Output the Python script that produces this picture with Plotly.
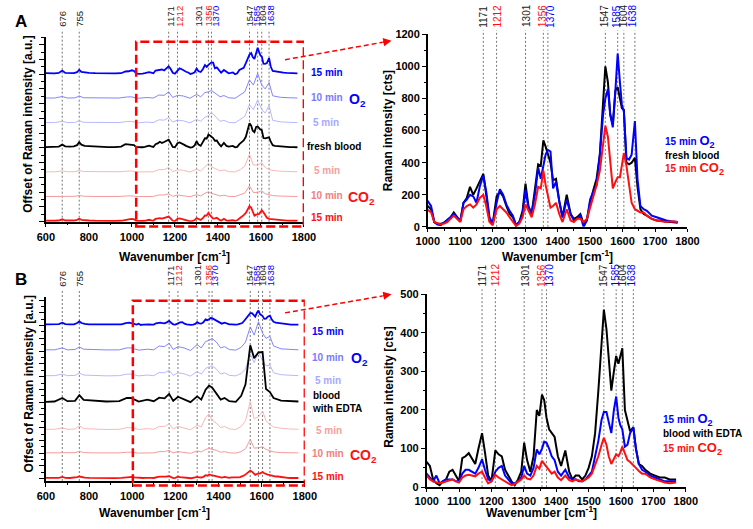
import plotly.graph_objects as go

# ---------------- data ----------------
W = [600, 620, 640, 660, 676, 690, 710, 730, 745, 755, 765, 780, 800, 830, 860, 890, 920, 950, 970, 985,
     1000, 1010, 1020, 1030, 1040, 1050, 1060, 1070, 1080, 1090, 1100,
     1110, 1120, 1130, 1140, 1150, 1160,
     1171, 1180, 1190, 1200,
     1212, 1222, 1232, 1242, 1252, 1262, 1272, 1282, 1292,
     1301, 1310, 1320, 1330, 1340, 1348, 1356, 1363, 1370, 1378, 1386, 1395,
     1405, 1415, 1428, 1440, 1450, 1460, 1470, 1480, 1490, 1500, 1510, 1520, 1530, 1540,
     1547, 1555, 1562, 1570, 1578, 1585, 1592, 1598, 1604, 1612, 1620, 1628, 1638,
     1646, 1655, 1665, 1675, 1690, 1705, 1720, 1735, 1750, 1770]

WL = [600, 640, 676, 700, 735, 755, 775, 820, 880, 940, 975, 995, 1030, 1070, 1100, 1125, 1150, 1171, 1190,
      1212, 1240, 1270, 1301, 1320, 1340, 1356, 1370, 1390, 1410, 1428, 1450, 1480, 1505, 1525, 1547, 1565,
      1585, 1604, 1620, 1638, 1655, 1690, 1730, 1770]

A_O2_15 = [40, 30, 30, 50, 150, 50, 40, 40, 80, 180, 90, 60, 50, 40, 30, 30, 30, 40, 110, 120,
           160, 130, 30, 15, 10, 25, 40, 60, 80, 60, 35,
           150, 170, 200, 190, 150, 250,
           320, 220, 60, 20,
           150, 235, 200, 140, 100, 70, 10, 30, 80,
           230, 120, 90, 200, 370, 300, 380, 450, 480, 470, 240, 280,
           160, 60, 170, 80, 40, 50, 70, 0, 40, 170, 220, 260, 450, 700,
           800, 860, 700, 620, 850, 1080, 900, 760, 720, 430, 420, 450, 660,
           300, 130, 110, 100, 70, 60, 50, 40, 35, 30]
A_FRESH = [30, 30, 40, 50, 130, 60, 50, 60, 110, 230, 130, 80, 70, 50, 40, 30, 30, 50, 150, 140,
           130, 110, 30, 20, 20, 25, 40, 60, 90, 60, 35,
           150, 180, 250, 200, 240, 280,
           330, 200, 40, 20,
           190, 220, 190, 130, 80, 60, 10, 30, 100,
           270, 130, 80, 250, 390, 380, 540, 500, 450, 400, 290, 300,
           160, 60, 200, 80, 50, 60, 80, 20, 40, 150, 230, 300, 450, 800,
           1000, 900, 700, 640, 850, 870, 800, 740, 730, 400, 390, 400, 430,
           250, 110, 80, 70, 50, 40, 40, 30, 30, 25]
A_CO2_15 = [30, 20, 30, 40, 90, 40, 30, 40, 70, 110, 70, 50, 40, 30, 20, 20, 20, 30, 80, 90,
            105, 90, 30, 20, 15, 20, 30, 50, 70, 50, 30,
            110, 130, 140, 120, 140, 180,
            200, 130, 30, 10,
            110, 130, 110, 90, 60, 30, 5, 20, 60,
            140, 100, 60, 140, 250, 240, 350, 260, 190, 120, 130, 150,
            80, 30, 110, 40, 30, 50, 50, 30, 50, 120, 180, 260, 350, 500,
            630, 560, 400, 240, 280, 310, 310, 380, 460, 380, 250, 150, 110,
            100, 90, 90, 70, 50, 40, 35, 30, 35, 30]

A_O2_10 = [30, 30, 90, 30, 35, 110, 40, 30, 25, 30, 70, 80, 20, 50, 30, 150, 140, 280, 50,
           140, 110, 20, 180, 80, 250, 280, 340, 200, 80, 130, 40, 20, 180, 280, 770, 560,
           1030, 560, 400, 660, 120, 60, 40, 30]
A_O2_5 = [30, 30, 80, 30, 35, 110, 40, 30, 25, 30, 70, 80, 20, 50, 30, 140, 130, 230, 50,
          130, 100, 20, 160, 80, 250, 300, 450, 250, 80, 120, 40, 20, 170, 280, 760, 560,
          950, 560, 420, 720, 120, 60, 40, 30]
A_CO2_5 = [25, 25, 60, 25, 30, 80, 35, 25, 20, 25, 50, 60, 20, 40, 25, 110, 110, 200, 30,
           110, 80, 15, 130, 60, 240, 370, 230, 160, 60, 100, 30, 20, 120, 250, 740, 300,
           300, 400, 200, 120, 80, 50, 35, 25]
A_CO2_10 = [20, 20, 45, 20, 25, 60, 30, 20, 15, 20, 40, 45, 15, 30, 20, 80, 80, 130, 25,
            80, 60, 10, 90, 45, 150, 210, 150, 100, 40, 70, 25, 15, 80, 160, 450, 180,
            190, 250, 130, 80, 55, 35, 25, 20]

B_O2_15 = [20, 18, 18, 22, 45, 22, 18, 20, 40, 65, 40, 25, 20, 18, 15, 15, 15, 20, 40, 45,
           35, 25, 15, 30, 10, 15, 20, 20, 20, 15, 15,
           35, 45, 45, 40, 35, 50,
           72, 45, 20, 15,
           40, 50, 55, 30, 20, 10, 10, 15, 25,
           55, 35, 30, 50, 98, 85, 100, 118, 115, 100, 80, 70,
           40, 30, 45, 25, 20, 20, 15, 15, 20, 30, 40, 80, 120, 175,
           195, 195, 170, 140, 200, 235, 180, 160, 150, 105, 110, 140, 155,
           100, 60, 45, 40, 30, 25, 20, 15, 15, 15]
B_EDTA = [25, 22, 25, 30, 50, 30, 25, 30, 55, 85, 55, 40, 35, 30, 25, 25, 25, 35, 60, 65,
          65, 55, 20, 10, 5, 15, 20, 40, 45, 30, 15,
          75, 80, 88, 75, 60, 100,
          140, 90, 30, 15,
          95, 85, 80, 45, 30, 15, 5, 20, 40,
          115, 70, 40, 80, 200, 185, 240, 225, 180, 150, 140, 130,
          80, 55, 95, 40, 20, 30, 30, 20, 30, 50, 80, 140, 250, 380,
          460, 410, 330, 250, 300, 340, 320, 340, 360, 200, 170, 145, 155,
          100, 60, 55, 45, 35, 30, 25, 25, 20, 20]
B_CO2_15 = [15, 12, 12, 15, 28, 15, 12, 15, 25, 35, 25, 18, 15, 12, 10, 10, 10, 15, 25, 30,
            30, 20, 15, 12, 10, 12, 15, 18, 20, 15, 12,
            25, 30, 32, 30, 28, 35,
            40, 25, 10, 15,
            32, 25, 20, 15, 12, 5, 8, 15, 20,
            30, 22, 20, 30, 55, 48, 68, 60, 55, 45, 35, 40,
            25, 18, 30, 18, 15, 20, 18, 15, 20, 25, 35, 55, 80, 110,
            128, 110, 80, 60, 75, 85, 80, 90, 105, 85, 70, 65, 58,
            50, 42, 35, 35, 25, 20, 15, 12, 10, 12]

# stacked (normalised) EDTA spectrum shown in panel B, left
B_EDTA_STACK = [25, 30, 85, 35, 40, 130, 55, 40, 30, 35, 85, 85, 30, 60, 35, 90, 80, 150, 40,
                105, 60, 20, 110, 60, 215, 280, 250, 150, 60, 85, 35, 25, 120, 300, 910, 710,
                800, 805, 225, 178, 85, 45, 35, 30]
B_O2_10 = [20, 20, 50, 20, 25, 65, 30, 20, 18, 20, 50, 50, 15, 30, 20, 80, 70, 125, 25,
           70, 50, 10, 100, 50, 150, 170, 200, 140, 50, 70, 25, 15, 60, 140, 380, 250,
           460, 280, 200, 230, 80, 35, 25, 20]
B_O2_5 = [15, 15, 40, 15, 20, 55, 25, 15, 12, 15, 40, 40, 12, 25, 15, 65, 60, 100, 20,
          60, 45, 8, 80, 40, 130, 150, 170, 120, 40, 60, 20, 12, 50, 120, 355, 220,
          385, 250, 170, 180, 60, 30, 20, 15]
B_CO2_5 = [15, 15, 35, 15, 20, 70, 25, 15, 12, 15, 40, 40, 12, 25, 15, 60, 60, 100, 20,
           60, 40, 8, 80, 50, 200, 255, 160, 110, 40, 60, 20, 12, 60, 150, 450, 180,
           210, 300, 150, 90, 50, 30, 20, 15]
B_CO2_10 = [15, 15, 25, 15, 18, 40, 20, 15, 12, 15, 25, 25, 12, 20, 15, 35, 35, 55, 15,
            35, 25, 8, 45, 30, 70, 85, 70, 55, 25, 35, 15, 12, 35, 80, 225, 90,
            95, 110, 70, 45, 30, 20, 15, 15]

BANDS_LEFT = [676, 755, 1171, 1212, 1301, 1356, 1370, 1547, 1585, 1604, 1638]
BANDS_RIGHT = [1171, 1212, 1301, 1356, 1370, 1547, 1585, 1604, 1638]
BAND_LABELS = {676: "676", 755: "755", 1171: "1171", 1212: "1212", 1301: "1301", 1356: "1356",
               1370: "1370", 1547: "1547", 1585: "1585", 1604: "1604", 1638: "1638"}

# ---------------- styling ----------------
FW, FH = 753, 529
FONT = "Liberation Sans, Arial, sans-serif"
BLUE, RED, BLACK = "#0000ff", "#ff1010", "#000000"
O2_10C, O2_5C = "#8484ff", "#b8b8ff"
CO2_5C, CO2_10C = "#f8b8b8", "#f29a9a"
BAND_COL = {676: "#222", 755: "#222", 1171: "#222", 1212: RED, 1301: "#222", 1356: RED,
            1370: BLUE, 1547: "#222", 1585: BLUE, 1604: "#222", 1638: BLUE}


def fx(p):
    return p / FW


def fy(p):
    return 1 - p / FH


fig = go.Figure()

P = {
    "AL": dict(xa="x", ya="y", xd=(35, 301.5), yd=(32, 220.7), xr=[600, 1800], yr=[-8, 7504]),
    "AR": dict(xa="x2", ya="y2", xd=(429.5, 697.7), yd=(29, 226), xr=[1000, 1800], yr=[0, 1200]),
    "BL": dict(xa="x3", ya="y3", xd=(35, 302.5), yd=(298, 486), xr=[600, 1800], yr=[-35, 2844]),
    "BR": dict(xa="x4", ya="y4", xd=(428.3, 696), yd=(295, 492.3), xr=[1000, 1800], yr=[0, 500]),
}


def add(panel, x, vals, color, width, offset=0):
    p = P[panel]
    fig.add_trace(go.Scatter(x=x, y=[v + offset for v in vals], mode="lines",
                             line=dict(color=color, width=width), xaxis=p["xa"], yaxis=p["ya"],
                             showlegend=False, hoverinfo="skip"))


add("AL", WL, A_CO2_10, CO2_10C, 1, 1000)
add("AL", WL, A_CO2_5, CO2_5C, 1, 2000)
add("AL", WL, A_O2_5, O2_5C, 1, 4000)
add("AL", WL, A_O2_10, O2_10C, 1, 5000)
add("AL", W, A_CO2_15, RED, 1.8, 0)
add("AL", W, A_FRESH, BLACK, 1.8, 3000)
add("AL", W, A_O2_15, BLUE, 1.8, 6000)

add("AR", W, A_FRESH, BLACK, 2)
add("AR", W, A_O2_15, BLUE, 2)
add("AR", W, A_CO2_15, RED, 2)

add("BL", WL, B_CO2_10, CO2_10C, 1, 390)
add("BL", WL, B_CO2_5, CO2_5C, 1, 760)
add("BL", WL, B_O2_5, O2_5C, 1, 1600)
add("BL", WL, B_O2_10, O2_10C, 1, 2000)
add("BL", W, B_CO2_15, RED, 1.8, 0)
add("BL", WL, B_EDTA_STACK, BLACK, 1.8, 1180)
add("BL", W, B_O2_15, BLUE, 1.8, 2400)

add("BR", W, B_EDTA, BLACK, 2)
add("BR", W, B_O2_15, BLUE, 2)
add("BR", W, B_CO2_15, RED, 2)

tickfont = dict(family=FONT, size=11, color="black", weight="bold")
layout = dict(width=FW, height=FH, margin=dict(l=0, r=0, t=0, b=0),
              paper_bgcolor="white", plot_bgcolor="white", showlegend=False)


def axis_common():
    return dict(showline=True, linecolor="black", linewidth=1.5, ticks="outside", tickcolor="black",
                tickwidth=1, showgrid=False, zeroline=False, tickfont=tickfont)


for key, p in P.items():
    xk = "xaxis" + p["xa"][1:]
    yk = "yaxis" + p["ya"][1:]
    xa = axis_common()
    ya = axis_common()
    xa.update(domain=[fx(p["xd"][0]), fx(p["xd"][1])], range=p["xr"], anchor=p["ya"])
    ya.update(domain=[fy(p["yd"][1]), fy(p["yd"][0])], range=p["yr"], anchor=p["xa"])
    if key in ("AL", "BL"):
        xa.update(tick0=600, dtick=200, ticklen=4,
                  minor=dict(dtick=100, ticklen=2, ticks="outside", tickcolor="black"))
        ya.update(showticklabels=False, ticklen=5, tick0=0, dtick=600 if key == "AL" else 200,
                  minor=dict(dtick=300 if key == "AL" else 100, ticklen=3, ticks="outside", tickcolor="black"))
    else:
        xa.update(tick0=1000, dtick=100, ticklen=3,
                  minor=dict(dtick=50, ticklen=2, ticks="outside", tickcolor="black"))
        ya.update(tick0=0, dtick=200 if key == "AR" else 100, ticklen=4,
                  minor=dict(dtick=100 if key == "AR" else 50, ticklen=2, ticks="outside", tickcolor="black"))
    layout[xk] = xa
    layout[yk] = ya
fig.update_layout(**layout)

shapes = []
annots = []


def bands(panel, blist, label_bottom, line_top, size, shifts):
    p = P[panel]
    for b in blist:
        shapes.append(dict(type="line", xref=p["xa"], yref="paper", x0=b, x1=b,
                           y0=fy(p["yd"][1]), y1=fy(line_top), layer="below",
                           line=dict(color="#777", width=1, dash="2px,2px")))
        annots.append(dict(xref=p["xa"], yref="paper", x=b, y=fy(label_bottom), text=BAND_LABELS[b],
                           textangle=-90, showarrow=False, xanchor="center", yanchor="bottom",
                           xshift=shifts.get(b, 0), borderpad=0,
                           font=dict(family=FONT, size=size, color=BAND_COL[b])))


LSH = {1171: 1.5, 1212: 1.5, 1301: 1, 1370: 3.4, 1585: -1.9, 1604: 0.5, 1638: 1.3}
RSH = {1212: 1, 1301: 1.5, 1370: 3, 1585: -0.7, 1604: 0.3, 1638: -1.7}
bands("AL", BANDS_LEFT, 22, 24, 9.5, LSH)
bands("AR", BANDS_RIGHT, 23, 25, 10, RSH)
bands("BL", BANDS_LEFT, 288, 290, 9.5, LSH)
bands("BR", BANDS_RIGHT, 288, 290, 10, RSH)

for xa, x0, top, bot, a0, a1 in (("x", 1020, 36.7, 225.7, (282, 55), (392, 35.5)),
                                  ("x3", 1003, 301.7, 490.7, (282, 314), (392, 295))):
    shapes.append(dict(type="rect", xref=xa, yref="paper", x0=x0, x1=1800, y0=fy(bot), y1=fy(top),
                       line=dict(color="#ff0000", width=2.5, dash="9px,4px"), layer="above"))
    shapes.append(dict(type="line", xref="paper", yref="paper", x0=fx(a0[0]), y0=fy(a0[1]),
                       x1=fx(a1[0] - 9), y1=fy(a1[1] + 1.6),
                       line=dict(color="#ff0000", width=1.5, dash="5px,3px")))
    annots.append(dict(xref="paper", yref="paper", x=fx(a1[0]), y=fy(a1[1]), ax=-10, ay=1.8,
                       text="", showarrow=True, arrowhead=2, arrowsize=1.1, arrowwidth=1.5,
                       arrowcolor="#ff0000"))


def txt(s, x, y, color, size=10, xanchor="left", angle=0, align="left"):
    annots.append(dict(xref="paper", yref="paper", x=fx(x), y=fy(y), text="<b>%s</b>" % s,
                       showarrow=False, xanchor=xanchor, yanchor="middle", textangle=angle, align=align,
                       font=dict(family=FONT, size=size, color=color)))


O2T = "O<sub>2</sub>"
CO2T = "CO<sub>2</sub>"

txt("15 min", 306.7, 68.5, BLUE)
txt("10 min", 306.7, 93.5, "#7a7aff")
txt(O2T, 346.5, 96.5, BLUE, 14)
txt("5 min", 309.3, 119, "#a8a8ff")
txt("fresh blood", 302.7, 143.5, BLACK)
txt("5 min", 310, 168.5, "#f4a0a0")
txt("10 min", 307, 193.5, "#f08080")
txt(CO2T, 345, 196.5, RED, 14)
txt("15 min", 307, 216.7, RED)

txt("15 min", 308.3, 333.3, BLUE)
txt("10 min", 308, 359.3, "#7a7aff")
txt(O2T, 348, 361.5, BLUE, 14)
txt("5 min", 311, 383.3, "#a8a8ff")
txt("blood<br>with EDTA", 307.7, 405.5, BLACK)
txt("5 min", 312, 434, "#f4a0a0")
txt("10 min", 308, 457.7, "#f08080")
txt(CO2T, 346.7, 460.5, RED, 14)
txt("15 min", 308, 481.7, RED)

BIG = '<span style="font-size:13px">%s</span>'
for x0, ys, mid in ((672.7, (138.3, 152.7, 166.7), "fresh blood"),
                    (670, (423.3, 437.7, 452.7), "blood with EDTA")):
    txt("15 min " + BIG % O2T, x0, ys[0], BLUE)
    txt(mid, x0, ys[1], BLACK)
    txt("15 min " + BIG % CO2T, x0, ys[2], RED)

XT = "Wavenumber [cm<sup>-1</sup>]"
txt(XT, 168, 256, BLACK, 12, "center")
txt(XT, 563.7, 255.5, BLACK, 12, "center")
txt(XT, 147, 517.5, BLACK, 12, "center")
txt(XT, 546.7, 517.5, BLACK, 12, "center")
txt("Offset of Raman intensity [a.u.]", 17, 121, BLACK, 12, "center", -90)
txt("Offset of Raman intensity [a.u.]", 17, 386.7, BLACK, 12, "center", -90)
txt("Raman intensity [cts]", 388, 127.5, BLACK, 12, "center", -90)
txt("Raman intensity [cts]", 390, 390, BLACK, 12, "center", -90)

txt("A", 1, 16, BLACK, 17)
txt("B", 1, 280, BLACK, 17)

fig.update_layout(shapes=shapes, annotations=annots)
fig.write_html("out.html", config={"displayModeBar": False},
               post_script="document.body.style.margin='0';document.body.style.overflow='hidden';")
